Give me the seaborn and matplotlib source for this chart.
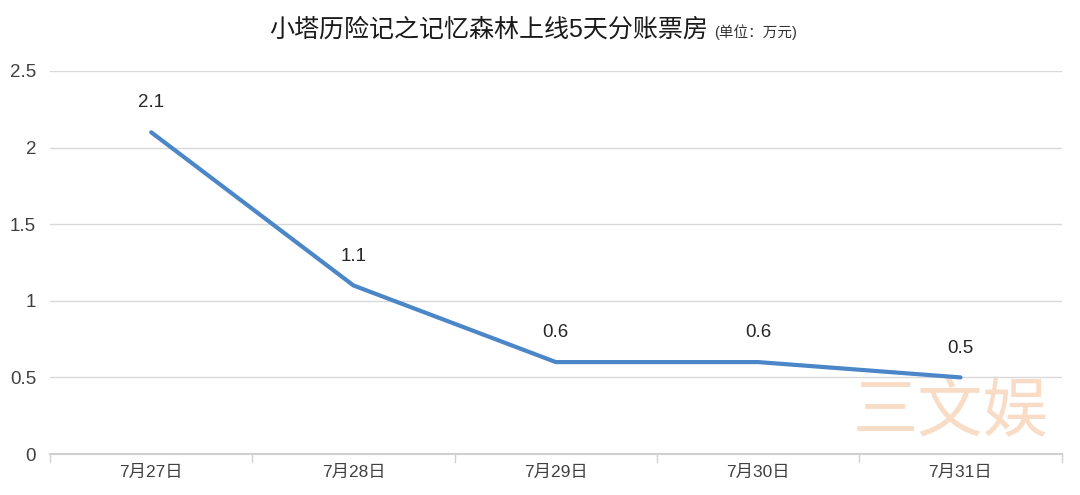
import seaborn as sns
import pandas as pd
import matplotlib.pyplot as plt

dates = ['7月27日', '7月28日', '7月29日', '7月30日', '7月31日']
box_office = [2.1, 1.1, 0.6, 0.6, 0.5]
yticks = [0, 0.5, 1, 1.5, 2, 2.5]

data = pd.DataFrame({'date': dates, 'value': box_office})

sns.set_style('white')
plt.rcParams['font.family'] = ['Liberation Sans', 'Noto Sans CJK SC', 'DejaVu Sans']

fig = plt.figure(figsize=(10.8, 4.95), dpi=100)
ax = fig.add_axes([0.0463, 0.0828, 0.9367, 0.7738])

sns.lineplot(data=data, x='date', y='value', color='#4a86c8', linewidth=3, ax=ax)

# data labels
for i, v in enumerate(box_office):
    ax.annotate(f'{v:g}', (i, v), xytext=(0, 15), textcoords='offset points',
                ha='center', va='bottom', fontsize=13.5, color='#262626')

# watermark
ax.text(3.95, 0.26, '三文娱', fontsize=47, color='#f9d6bc', alpha=0.85,
        ha='center', va='center', zorder=0)

ax.set_xlim(-0.5, 4.5)
ax.set_ylim(0, 2.5)
ax.set_yticks(yticks)
ax.set_yticklabels([f'{t:g}' for t in yticks], fontsize=13.5, color='#404040')
ax.set_xticks(range(len(dates)))
ax.set_xticklabels(dates, fontsize=12.5, color='#404040')
ax.tick_params(axis='x', length=0, pad=8)
ax.tick_params(axis='y', length=0, pad=10)
ax.grid(axis='y', color='#d9d9d9', linewidth=1)
ax.set_axisbelow(True)

# band boundary ticks on x axis
for b in [-0.5, 0.5, 1.5, 2.5, 3.5, 4.5]:
    ax.plot([b, b], [0, -0.05], color='#d0d0d0', linewidth=1, clip_on=False)

for s in ['top', 'right', 'left']:
    ax.spines[s].set_visible(False)
ax.spines['bottom'].set_color('#d0d0d0')
ax.spines['bottom'].set_linewidth(1.5)
ax.set_xlabel('')
ax.set_ylabel('')

fig.text(0.656, 0.94, '小塔历险记之记忆森林上线5天分账票房', ha='right', va='center',
         fontsize=18, fontweight='medium', color='#1a1a1a')
fig.text(0.661, 0.935, '(单位：万元)', ha='left', va='center', fontsize=10.5, color='#333333')

fig.savefig('out.png', dpi=100)
